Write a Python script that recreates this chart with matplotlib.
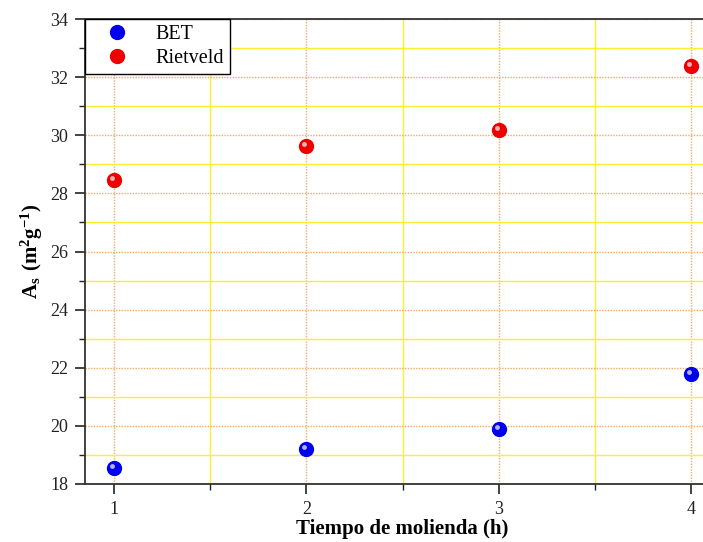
import numpy as np
import matplotlib
matplotlib.use("Agg")
import matplotlib.pyplot as plt
from matplotlib.ticker import MultipleLocator
from matplotlib.lines import Line2D
from matplotlib.transforms import ScaledTranslation

plt.rcParams["font.family"] = ["Liberation Serif", "DejaVu Serif"]
plt.rcParams["mathtext.fontset"] = "custom"
plt.rcParams["mathtext.rm"] = "Liberation Serif"
plt.rcParams["mathtext.bf"] = "Liberation Serif:bold"

# milling time (h) and specific surface area (m2/g)
tiempo = [1, 2, 3, 4]
bet = [18.55, 19.22, 19.88, 21.78]
rietveld = [28.46, 29.62, 30.18, 32.40]

series = [("BET", bet, "#0000ee"), ("Rietveld", rietveld, "#ee0000")]

fig = plt.figure(figsize=(7.03, 5.42), dpi=100)
ax = fig.add_axes([85 / 703, 1 - 484 / 542, 635 / 703, 465 / 542])

ax.set_xlim(0.849, 4.15)
ax.set_ylim(18, 34)
ax.xaxis.set_major_locator(MultipleLocator(1))
ax.xaxis.set_minor_locator(MultipleLocator(0.5))
ax.yaxis.set_major_locator(MultipleLocator(2))
ax.yaxis.set_minor_locator(MultipleLocator(1))

ax.grid(which="major", color="#f7a862", linestyle=(0, (1, 1)), linewidth=1.0, zorder=0)
ax.grid(which="minor", color="#ffee30", linestyle="-", linewidth=1.0, zorder=0)
ax.set_axisbelow(True)

ax.tick_params(which="both", direction="out", top=False, right=False,
               labelsize=13, colors="#222222")
ax.tick_params(which="major", length=7, width=1.2, pad=5)
ax.tick_params(which="minor", length=4, width=1.0)
for s in ax.spines.values():
    s.set_linewidth(1.3)
    s.set_color("#333333")

shift = ScaledTranslation(-2 / 100, 2 / 100, fig.dpi_scale_trans)
handles = []
for name, vals, col in series:
    ax.plot(tiempo, vals, "o", ms=10, color=col, mec=col, zorder=5)
    # small highlight for a glossy sphere look
    ax.plot(tiempo, vals, "o", ms=3.5, color="white", alpha=0.7, mew=0,
            zorder=6, transform=ax.transData + shift)
    handles.append(Line2D([], [], marker="o", ls="none", ms=10, color=col, label=name))

leg = ax.legend(handles=handles, loc="upper left", fontsize=14.5, frameon=True,
                fancybox=False, edgecolor="black", framealpha=1,
                borderaxespad=0, handletextpad=0.6, borderpad=0.3,
                labelspacing=0.22, handlelength=2.6)
leg.get_frame().set_linewidth(1.0)

ax.set_xlabel("Tiempo de molienda (h)", fontsize=15, fontweight="bold", labelpad=1)
ax.set_ylabel(r"$\mathbf{A_s\ (m^2g^{-1})}$", fontsize=15, labelpad=4)

fig.savefig("out.png", dpi=100)
